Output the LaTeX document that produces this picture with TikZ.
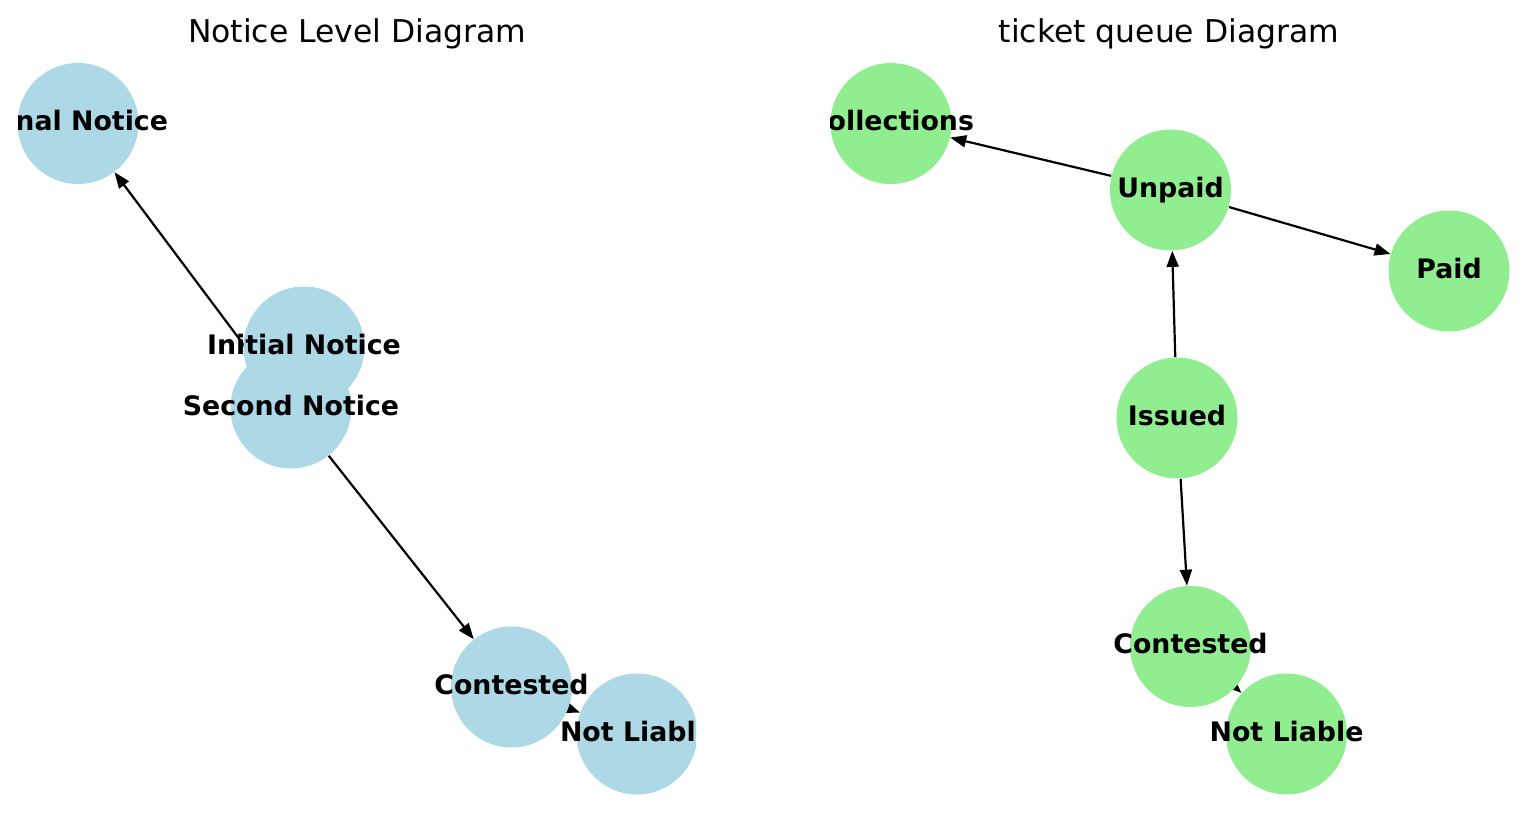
\documentclass[tikz,border=0pt]{standalone}
\usepackage{fontspec}
\setmainfont{DejaVu Sans}
\usetikzlibrary{arrows.meta}
\definecolor{lblue}{HTML}{ADD8E6}
\definecolor{lgreen}{HTML}{90EE90}
\pgfdeclarelayer{edgelayer}
\pgfsetlayers{edgelayer,main}
\tikzset{
  nodeL/.style={circle, fill=lblue, minimum size=60.5pt, inner sep=0pt},
  nodeR/.style={circle, fill=lgreen, minimum size=60.5pt, inner sep=0pt},
  lab/.style={font=\bfseries\fontsize{13.4pt}{16pt}\selectfont, inner sep=0pt, text=black, anchor=base, yshift=-3.6pt},
  ttl/.style={font=\fontsize{15.7pt}{19pt}\selectfont, inner sep=0pt, text=black, anchor=base},
  edge/.style={-{Triangle[length=8pt,width=6pt]}, line width=1.1pt, black}
}
\begin{document}
\begin{tikzpicture}[x=0.5pt,y=-0.5pt]
\useasboundingbox (0,0) rectangle (1526,817);
% titles
\node[ttl] (t1) at (357,42.7) {Notice Level Diagram};
\node[ttl] (t2) at (1169,42.7) {ticket queue Diagram};
% left panel
\begin{scope}
  \clip (18,0) rectangle (696,817);
  \node[nodeL] (fn) at (78,123.5) {};
  \node[nodeL] (in) at (304,347) {};
  \node[nodeL] (sn) at (291,408) {};
  \node[nodeL] (ct) at (511.5,687) {};
  \node[nodeL] (nl) at (637,734) {};
  \node[lab] (fnT) at (fn.center) {Final Notice};
  \node[lab] (inT) at (in.center) {Initial Notice};
  \node[lab] (snT) at (sn.center) {Second Notice};
  \node[lab] (ctT) at (ct.center) {Contested};
  \node[lab] (nlT) at (nl.center) {Not Liable};
\end{scope}
% right panel
\begin{scope}
  \clip (830,0) rectangle (1526,817);
  \node[nodeR] (co) at (891,123.5) {};
  \node[nodeR] (up) at (1170.5,190) {};
  \node[nodeR] (pd) at (1449,271) {};
  \node[nodeR] (is) at (1177,418) {};
  \node[nodeR] (cr) at (1190.5,646.5) {};
  \node[nodeR] (nr) at (1286.5,734) {};
  \node[lab] (coT) at (co.center) {Collections};
  \node[lab] (upT) at (up.center) {Unpaid};
  \node[lab] (pdT) at (pd.center) {Paid};
  \node[lab] (isT) at (is.center) {Issued};
  \node[lab] (crT) at (cr.center) {Contested};
  \node[lab] (nrT) at (nr.center) {Not Liable};
\end{scope}
% edges under the nodes
\begin{pgfonlayer}{edgelayer}
  \draw[edge] (sn) -- (fn);
  \draw[edge] (sn) -- (ct);
  \draw[edge] (ct) -- (nl);
  \draw[edge] (up) -- (co);
  \draw[edge] (up) -- (pd);
  \draw[edge] (is) -- (up);
  \draw[edge] (is) -- (cr);
  \draw[edge] (cr) -- (nr);
\end{pgfonlayer}
\end{tikzpicture}
\end{document}
